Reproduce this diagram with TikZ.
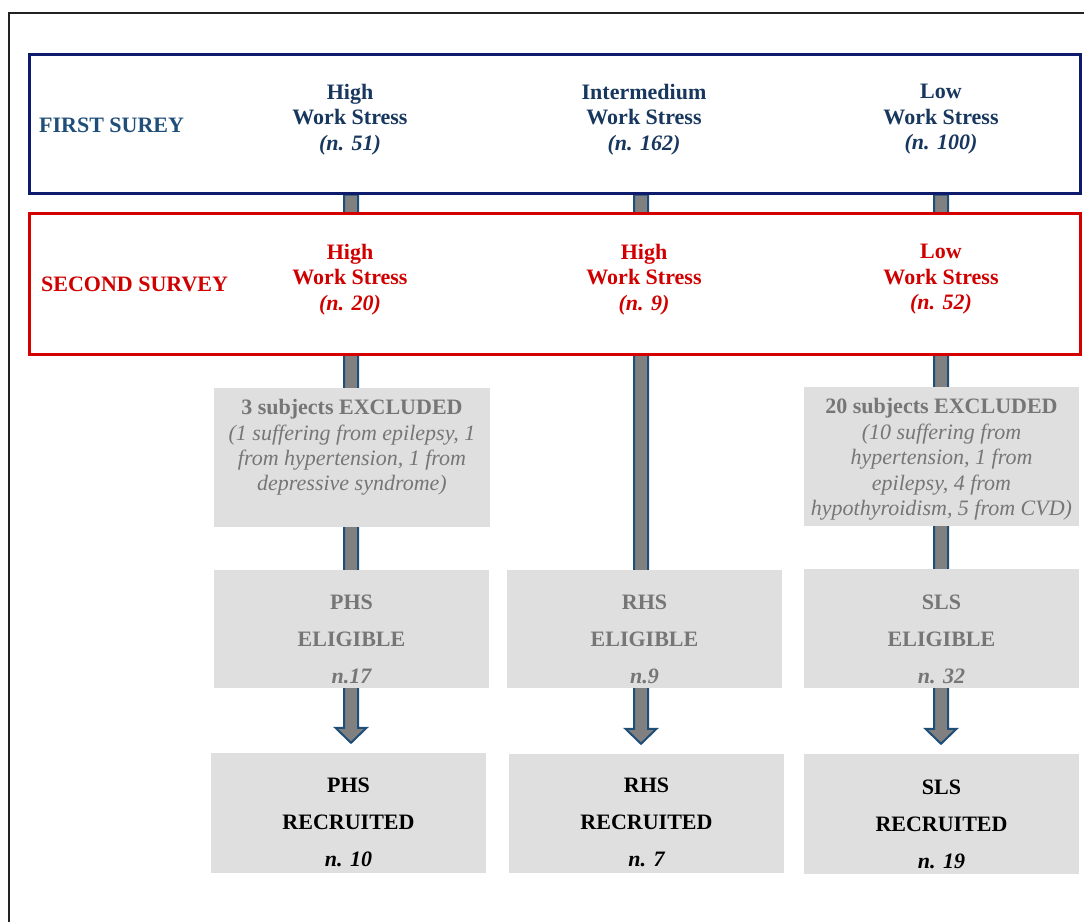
\documentclass[tikz,border=0pt]{standalone}
\usepackage{fontspec}
\setmainfont{Liberation Serif}
\usetikzlibrary{calc,backgrounds}
\definecolor{navyline}{HTML}{0E1A6B}
\definecolor{firsttxt}{HTML}{1F4E79}
\definecolor{coltxt}{HTML}{17375E}
\definecolor{redline}{HTML}{D40000}
\definecolor{redtxt}{HTML}{D00000}
\definecolor{boxgray}{HTML}{DFDFDF}
\definecolor{graytxt}{HTML}{767676}
\definecolor{arrowfill}{HTML}{808080}
\definecolor{arrowline}{HTML}{1F4E79}
\definecolor{framecol}{HTML}{222222}
\tikzset{
  surveybox/.style={draw, fill=white, line width=3pt, inner sep=0pt, minimum width=1051pt},
  graybox/.style={fill=boxgray, inner sep=0pt, minimum width=275pt},
  toptxt/.style={align=center, inner sep=0pt, font=\fontsize{22}{25.5}\selectfont\bfseries},
  boxtxt/.style={align=center, inner sep=0pt, font=\fontsize{22}{25.4}\selectfont},
  bigtxt/.style={align=center, inner sep=0pt, font=\fontsize{22}{36.7}\selectfont\bfseries},
  fatarrow/.style={fill=arrowfill, draw=arrowline, line width=2pt, line join=miter}
}
\begin{document}
\begin{tikzpicture}[x=1pt,y=-1pt]
\useasboundingbox (0,0) rectangle (1084,922);
\draw[framecol, line width=2pt] (9,922) -- (9,13) -- (1084,13);

% column positions
\coordinate (cL) at (351,0);
\coordinate (cM) at (641,0);
\coordinate (cR) at (941,0);

% survey boxes
\node[surveybox, draw=navyline, minimum height=139pt] (first) at (554.5,123.5) {};
\node[surveybox, draw=redline, minimum height=141pt] (second) at (554.5,283.5) {};

% gray boxes
\node[graybox, minimum width=276pt, minimum height=139pt] (exL) at (352,457.5) {};
\node[graybox, minimum height=139pt] (exR) at (941.5,456.5) {};
\node[graybox, minimum height=118pt] (elL) at (351.5,629) {};
\node[graybox, minimum height=118pt] (elM) at (644.5,629) {};
\node[graybox, minimum height=119pt] (elR) at (941.5,628.5) {};
\node[graybox, minimum height=120pt] (recL) at (348.5,813) {};
\node[graybox, minimum height=119pt] (recM) at (646.5,813.5) {};
\node[graybox, minimum height=120pt] (recR) at (941.5,814) {};

% arrows behind boxes
\begin{scope}[on background layer]
\foreach \c/\r in {cL/recL, cM/recM, cR/recR}{
  \draw[fatarrow] let \p1=(first.south -| \c), \p2=(\r.north -| \c) in
    (\x1-7pt,\y1) -- (\x1+7pt,\y1) -- (\x1+7pt,\y2+25pt) -- (\x1+15.5pt,\y2+25pt)
    -- (\x1,\y2+10pt) -- (\x1-15.5pt,\y2+25pt) -- (\x1-7pt,\y2+25pt) -- cycle;
}
\end{scope}

% first survey texts
\node[toptxt, text=firsttxt, anchor=west] (t1) at (39,125) {FIRST SUREY};
\node[toptxt, text=coltxt] (f1) at (350,119.5) {High\\Work Stress\\\itshape(n. 51)};
\node[toptxt, text=coltxt] (f2) at (644,119.5) {Intermedium\\Work Stress\\\itshape(n. 162)};
\node[toptxt, text=coltxt] (f3) at (941,119.5) {Low\\Work Stress\\\itshape(n. 100)};

% second survey texts
\node[toptxt, text=redtxt, anchor=west] (t2) at (41,284) {SECOND SURVEY};
\node[toptxt, text=redtxt] (s1) at (350,279.5) {High\\Work Stress\\\itshape(n. 20)};
\node[toptxt, text=redtxt] (s2) at (644,279.5) {High\\Work Stress\\\itshape(n. 9)};
\node[toptxt, text=redtxt] (s3) at (941,279.5) {Low\\Work Stress\\\itshape(n. 52)};

% excluded texts
\node[boxtxt, text=graytxt] (x1) at (352,447.5) {\textbf{3 subjects EXCLUDED}\\\itshape(1 suffering from epilepsy, 1\\\itshape from hypertension, 1 from\\\itshape depressive syndrome)};
\node[boxtxt, text=graytxt] (x2) at (941.5,459.5) {\textbf{20 subjects EXCLUDED}\\\itshape(10 suffering from\\\itshape hypertension, 1 from\\\itshape epilepsy, 4 from\\\itshape hypothyroidism, 5 from CVD)};

% eligible texts
\node[bigtxt, text=graytxt] (e1) at (351.5,639.5) {PHS\\ELIGIBLE\\\itshape n.17};
\node[bigtxt, text=graytxt] (e2) at (644.5,639.5) {RHS\\ELIGIBLE\\\itshape n.9};
\node[bigtxt, text=graytxt] (e3) at (941.5,639.5) {SLS\\ELIGIBLE\\\itshape n. 32};

% recruited texts
\node[bigtxt, text=black] (r1) at (348.5,822.5) {PHS\\RECRUITED\\\itshape n. 10};
\node[bigtxt, text=black] (r2) at (646.5,822.5) {RHS\\RECRUITED\\\itshape n. 7};
\node[bigtxt, text=black] (r3) at (941.5,824.5) {SLS\\RECRUITED\\\itshape n. 19};
\end{tikzpicture}
\end{document}
